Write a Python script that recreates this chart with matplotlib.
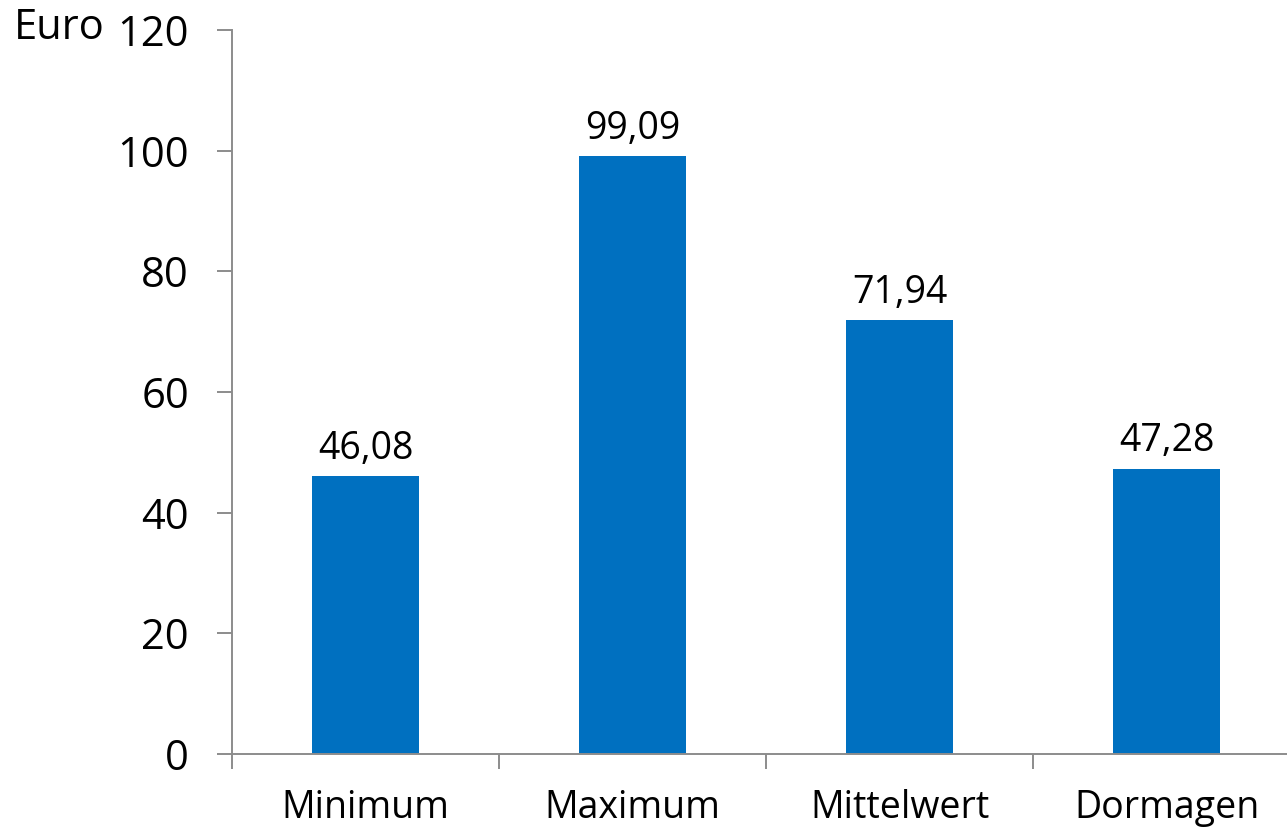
import matplotlib
matplotlib.use("Agg")
import matplotlib.pyplot as plt
import numpy as np

categories = ["Minimum", "Maximum", "Mittelwert", "Dormagen"]
values = [46.08, 99.09, 71.94, 47.28]
value_labels = ["46,08", "99,09", "71,94", "47,28"]
y_ticks = [0, 20, 40, 60, 80, 100, 120]

BAR_COLOR = "#0070C0"
AXIS_COLOR = "#8C8C8C"

plt.rcParams["font.family"] = ["Open Sans", "DejaVu Sans"]

fig = plt.figure(figsize=(12.87, 8.30), dpi=100)
ax = fig.add_axes([0.1803, 0.0916, 0.8298, 0.8723])

x = np.arange(len(categories))
ax.bar(x, values, width=0.4, color=BAR_COLOR, zorder=2)

for xi, v, lab in zip(x, values, value_labels):
    ax.annotate(lab, (xi, v), xytext=(0, 6), textcoords="offset points",
                ha="center", va="bottom", fontsize=27, color="black")

ax.set_xlim(-0.5, len(categories) - 0.5)
ax.set_ylim(0, 120)
ax.set_yticks(y_ticks)
ax.set_yticklabels([str(t) for t in y_ticks], fontsize=30)

# category ticks sit between the bars
ax.set_xticks(np.arange(len(categories) + 1) - 0.5)
ax.set_xticklabels([])
ax.set_xticks(x, minor=True)
ax.set_xticklabels(categories, minor=True, fontsize=27)
ax.tick_params(axis="x", which="minor", length=0, pad=25)
ax.tick_params(axis="x", which="major", length=11, width=1.4, color=AXIS_COLOR)
ax.tick_params(axis="y", length=11, width=1.4, color=AXIS_COLOR, pad=20)

for side in ("top", "right"):
    ax.spines[side].set_visible(False)
for side in ("left", "bottom"):
    ax.spines[side].set_color(AXIS_COLOR)
    ax.spines[side].set_linewidth(1.4)

fig.text(0.011, 0.966, "Euro", fontsize=30, ha="left", va="center")

fig.savefig("out.png", dpi=100)
